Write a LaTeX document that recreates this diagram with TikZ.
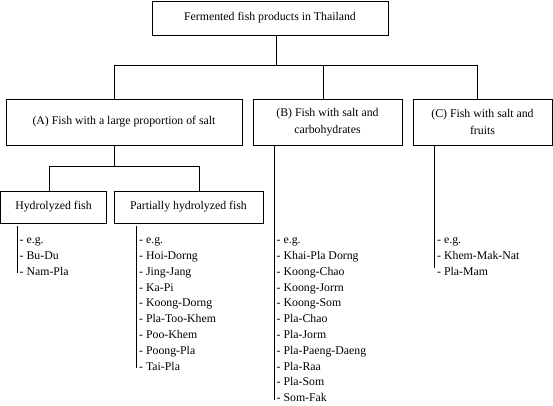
\documentclass[tikz,border=0pt]{standalone}
\usepackage{fontspec}
\setmainfont{Liberation Serif}
\begin{document}
\begin{tikzpicture}[x=1pt,y=-1pt,
  box/.style={draw,line width=0.8pt,inner sep=0pt,align=center,font=\fontsize{11.8}{16.5}\selectfont},
  list/.style={inner sep=0pt,anchor=north west,align=left,font=\fontsize{11.8}{15.8}\selectfont},
  conn/.style={line width=0.8pt}]
\useasboundingbox (0,0) rectangle (553,405);
\node[box,minimum width=236pt,minimum height=34pt] (top) at (270,18) {Fermented fish products in Thailand};
\node[box,minimum width=236pt,minimum height=46pt] (A) at (124,122) {(A) Fish with a large proportion of salt};
\node[box,minimum width=149pt,minimum height=46pt] (B) at (327.5,122) {(B) Fish with salt and\\carbohydrates};
\node[box,minimum width=139pt,minimum height=46pt] (C) at (482.5,122) {(C) Fish with salt and\\fruits};
\node[box,minimum width=106pt,minimum height=32pt] (H) at (53.5,207) {Hydrolyzed fish};
\node[box,minimum width=149pt,minimum height=32pt] (P) at (188.5,207) {Partially hydrolyzed fish};
\coordinate (j0) at (276,65);
\coordinate (ja) at (114,65);
\coordinate (jb) at (323,65);
\coordinate (jc) at (477,65);
\coordinate (k0) at (114,166);
\coordinate (kh) at (49,166);
\coordinate (kp) at (199,166);
\coordinate (hl) at (17,273);
\coordinate (pl) at (136,368);
\coordinate (bl) at (274,400);
\coordinate (cl) at (434,268);
\draw[conn] (top.south -| j0) -- (j0);
\draw[conn] (ja) -- (jc);
\draw[conn] (ja) -- (A.north -| ja);
\draw[conn] (jb) -- (B.north -| jb);
\draw[conn] (jc) -- (C.north -| jc);
\draw[conn] (A.south -| k0) -- (k0);
\draw[conn] (kh) -- (kp);
\draw[conn] (kh) -- (H.north -| kh);
\draw[conn] (kp) -- (P.north -| kp);
\draw[conn] (H.south -| hl) ++(0,3) -- (hl);
\draw[conn] (P.south -| pl) ++(0,3) -- (pl);
\draw[conn] (B.south -| bl) -- (bl);
\draw[conn] (C.south -| cl) -- (cl);
\node[list] (hlist) at (19.5,237.5) {- e.g.\\- Bu-Du\\- Nam-Pla};
\node[list] (plist) at (139,237.5) {- e.g.\\- Hoi-Dorng\\- Jing-Jang\\- Ka-Pi\\- Koong-Dorng\\- Pla-Too-Khem\\- Poo-Khem\\- Poong-Pla\\- Tai-Pla};
\node[list] (blist) at (276.5,237.5) {- e.g.\\- Khai-Pla Dorng\\- Koong-Chao\\- Koong-Jorrn\\- Koong-Som\\- Pla-Chao\\- Pla-Jorm\\- Pla-Paeng-Daeng\\- Pla-Raa\\- Pla-Som\\- Som-Fak};
\node[list] (clist) at (437,237.5) {- e.g.\\- Khem-Mak-Nat\\- Pla-Mam};
\end{tikzpicture}
\end{document}
